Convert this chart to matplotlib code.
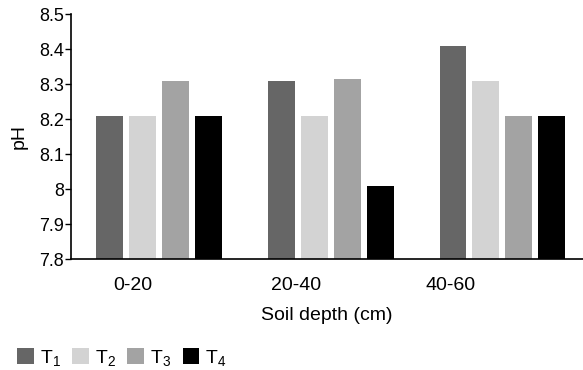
import numpy as np
import matplotlib
matplotlib.use("Agg")
import matplotlib.pyplot as plt
from matplotlib.patches import Patch

plt.rcParams['font.family'] = ['Liberation Sans', 'DejaVu Sans']
plt.rcParams['mathtext.fontset'] = 'custom'
plt.rcParams['mathtext.rm'] = 'Liberation Sans'
plt.rcParams['mathtext.it'] = 'Liberation Sans'

depths = ['0-20', '20-40', '40-60']
treatments = ['T$_1$', 'T$_2$', 'T$_3$', 'T$_4$']
ph_values = {
    'T1': [8.21, 8.31, 8.41],
    'T2': [8.21, 8.21, 8.31],
    'T3': [8.31, 8.315, 8.21],
    'T4': [8.21, 8.01, 8.21],
}
colors = ['#666666', '#d3d3d3', '#a3a3a3', '#000000']
yticks = [7.8, 7.9, 8.0, 8.1, 8.2, 8.3, 8.4, 8.5]
ytick_labels = ['7.8', '7.9', '8', '8.1', '8.2', '8.3', '8.4', '8.5']

fig = plt.figure(figsize=(5.83, 3.70), dpi=100)
ax = fig.add_axes([0.1218, 0.30, 0.8782, 0.662])

x = np.arange(len(depths))
step = 0.192
width = 0.157
for i, key in enumerate(ph_values):
    ax.bar(x + (i - 1.5) * step, np.array(ph_values[key]) - 7.8, width,
           bottom=7.8, color=colors[i], zorder=2)

ax.set_xlim(-0.512, 2.469)
ax.set_ylim(7.8, 8.5)
ax.set_yticks(yticks)
ax.set_yticklabels(ytick_labels, fontsize=13)
ax.set_xticks(x - np.array([0.15, 0.2, 0.3]))
ax.set_xticklabels(depths, fontsize=14)
ax.tick_params(axis='x', length=0, pad=13)
ax.tick_params(axis='y', length=4, width=1, pad=1)
ax.spines['top'].set_visible(False)
ax.spines['right'].set_visible(False)
ax.spines['left'].set_linewidth(1.2)
ax.spines['bottom'].set_linewidth(1.2)
ax.set_ylabel('pH', fontsize=14, labelpad=8)
ax.set_xlabel('Soil depth (cm)', fontsize=14, labelpad=9)

handles = [Patch(facecolor=c, edgecolor='none') for c in colors]
fig.legend(handles, treatments, loc='lower left', bbox_to_anchor=(0.01, -0.025),
           ncol=4, frameon=False, fontsize=14, handlelength=0.85, handleheight=0.85,
           handletextpad=0.3, columnspacing=0.6, borderaxespad=0.2)

fig.savefig('out.png', dpi=100)
